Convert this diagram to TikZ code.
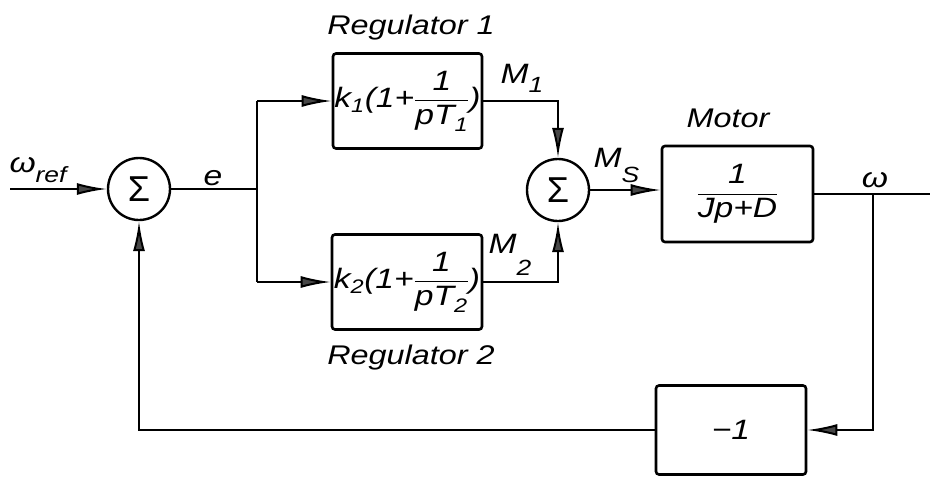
\documentclass[tikz,border=0pt]{standalone}
\usepackage{fontspec}
\usepackage{amsmath}
\setmainfont{Liberation Sans}[FakeStretch=1.2]
\newfontfamily\sigfont{Liberation Sans}
\usetikzlibrary{arrows.meta}
\newcommand\lowsub[3]{#1\raisebox{-#3}{\fontsize{22}{22}\selectfont #2}}
\begin{document}
\begin{tikzpicture}[x=1pt,y=-1pt,
  blk/.style={draw, line width=2.6pt, rounded corners=3pt, inner sep=0pt},
  sumc/.style={circle, draw, line width=2.4pt, minimum size=62pt, inner sep=0pt,
    font=\sigfont\fontsize{36}{38}\selectfont},
  conn/.style={line width=2pt},
  arr/.style={conn, -{Latex[length=30pt,width=12pt,fill=black!72]}},
  lab/.style={font=\fontsize{27}{30}\selectfont\itshape},
  sig/.style={font=\fontsize{28}{30}\selectfont\itshape},
  inbox/.style={font=\fontsize{28}{30}\selectfont\itshape}]
\fill[white] (0,0) rectangle (930,480);
\useasboundingbox (0,0) rectangle (930,480);

% blocks
\node[sumc] (s1) at (139,189) {Σ};
\node[blk, minimum width=149pt, minimum height=95pt, inbox] (r1) at (407.5,101)
  {$\text{k}_{\text{1}}\text{(1+}\dfrac{\text{1}}{\text{pT}_{\text{1}}}\text{)}$};
\node[blk, minimum width=150pt, minimum height=95pt, inbox] (r2) at (407,282)
  {$\text{k}_{\text{2}}\text{(1+}\dfrac{\text{1}}{\text{pT}_{\text{2}}}\text{)}$};
\node[sumc] (s2) at (558,190) {Σ};
\node[blk, minimum width=151pt, minimum height=96pt, inbox] (mo) at (737.5,194)
  {$\dfrac{\text{1}}{\text{Jp+D}}$};
\node[blk, minimum width=150pt, minimum height=89pt, inbox] (fb) at (731,430) {−1};

% free ends
\coordinate (in) at (10,189);
\coordinate (j) at (257,189);
\coordinate (out) at (930,194);
\coordinate (jo) at (873,194);

% connectors
\draw[arr] (in) -- (s1);
\draw[conn] (s1) -- (j);
\draw[conn] (j |- r1) -- (j |- r2);
\draw[arr] (j |- r1) -- (r1);
\draw[arr] (j |- r2) -- (r2);
\draw[arr] (r1) -| (s2);
\draw[arr] (r2) -| (s2);
\draw[arr] (s2) -- (s2 -| mo.west);
\draw[conn] (mo) -- (out);
\draw[arr] (jo) |- (fb);
\draw[arr] (fb) -| (s1);

% labels
\node[lab] (l1) at (411,28) {Regulator 1};
\node[lab] (l2) at (411,358) {Regulator 2};
\node[lab] (lm) at (728,118) {Motor};
\node[sig, anchor=base] (le) at (213,185) {e};
\node[sig, anchor=base west] (lwr) at (6,172) {\lowsub{ω}{ref}{10pt}};
\node[sig, anchor=base west] (lm1) at (497,83) {\lowsub{M}{1}{9pt}};
\node[sig, anchor=base west] (lm2) at (485,253) {\lowsub{M}{2}{22pt}};
\node[sig, anchor=base west] (lms) at (590,167) {\lowsub{M}{S}{15pt}};
\node[sig, anchor=base] (lw) at (875,187) {ω};
\end{tikzpicture}
\end{document}
